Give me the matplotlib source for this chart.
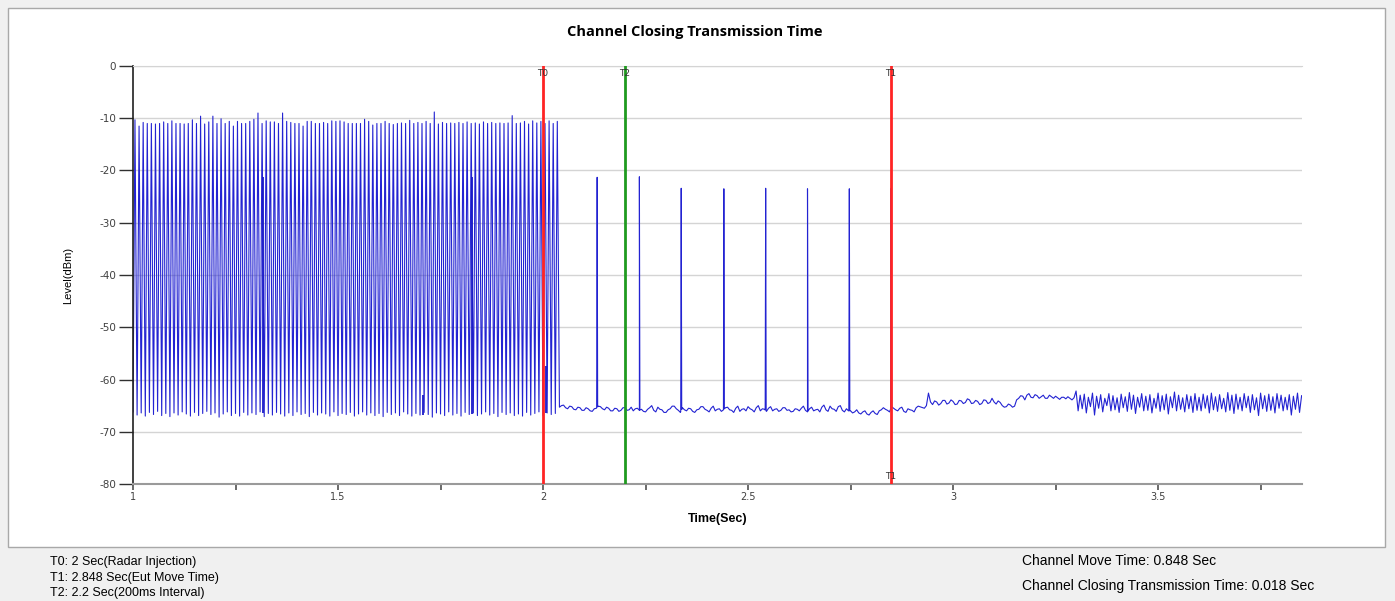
import numpy as np
import matplotlib
matplotlib.use("Agg")
from matplotlib import pyplot as plt
from matplotlib.patches import Rectangle

# ---- data ----
# pulse burst before the channel move (one pulse every 10 ms from 1.0 s)
burst_start = 1.0
burst_period = 0.01
burst_peaks = [
    -10.3, -11.5, -10.8, -11.0, -11.0, -11.1, -11.0, -10.7, -11.0, -10.5,
    -11.0, -11.0, -11.1, -11.0, -10.3, -11.0, -9.6, -11.1, -10.7, -9.6,
    -11.0, -10.1, -11.0, -10.6, -11.5, -10.6, -11.0, -11.0, -10.6, -10.2,
    -9.0, -11.0, -10.5, -10.7, -10.7, -11.0, -9.0, -10.6, -10.8, -11.0,
    -11.0, -11.5, -10.6, -10.6, -11.0, -11.0, -10.8, -11.0, -10.5, -10.6,
    -10.5, -10.7, -11.0, -11.0, -11.0, -11.0, -10.2, -10.6, -11.3, -11.0,
    -11.0, -10.6, -11.0, -11.2, -11.0, -10.9, -11.0, -10.4, -11.0, -10.8,
    -11.0, -10.6, -11.0, -8.8, -11.1, -10.8, -11.0, -10.9, -11.0, -10.8,
    -11.0, -10.7, -11.0, -10.9, -11.1, -10.7, -11.0, -10.8, -11.0, -10.9,
    -11.0, -10.9, -9.5, -11.0, -10.9, -10.6, -11.1, -10.5, -10.9, -10.6,
    -11.0, -10.5, -11.0, -10.6,
]
burst_floor = [
    -66.2, -66.8, -66.4, -67.0, -66.3, -66.7, -66.1, -66.9, -66.5, -67.1,
    -66.4, -66.8, -66.2, -66.6, -67.0, -66.3, -66.9, -66.5, -66.1, -66.7,
    -66.4, -67.2, -66.6, -66.2, -66.9, -66.5, -67.0, -66.3, -66.8, -66.4,
    -66.7, -66.2, -67.1, -66.5, -66.8, -66.3, -66.6, -67.0, -66.4, -66.9,
    -66.2, -66.7, -66.5, -67.1, -66.3, -66.8, -66.4, -66.6, -67.0, -66.2,
    -66.9, -66.5, -66.7, -66.3, -67.0, -66.6, -66.2, -66.8, -66.4, -66.9,
    -66.5, -67.1, -66.3, -66.7, -66.4, -66.9, -66.2, -66.6, -67.0, -66.5,
    -66.8, -66.3, -66.7, -67.2, -66.4, -66.6, -66.9, -66.2, -66.8, -66.5,
    -67.0, -66.3, -66.7, -66.4, -66.9, -66.6, -66.2, -66.8, -66.5, -67.1,
    -66.3, -66.7, -66.4, -66.9, -66.6, -67.0, -66.3, -66.8, -66.5, -66.2,
    -66.9, -66.4, -66.7, -66.5,
]
# odd pulses inside the burst (level reached, from the floor)
burst_extra_t = [1.317, 1.707, 1.827, 2.007]
burst_extra_level = [-21.2, -63.0, -21.2, -57.5]
burst_extra_base = [-66.5, -66.8, -66.6, -66.4]

# noise floor after the burst
noise_a_start, noise_a_step = 2.04, 0.005
noise_a = [
    -65.3, -65.0, -64.9, -65.4, -65.6, -65.1, -65.2, -65.7, -65.8, -65.3,
    -65.4, -65.9, -65.9, -65.4, -65.6, -66.0, -66.1, -65.6, -65.5, -65.1,
    -65.2, -65.6, -65.8, -65.3, -65.5, -66.0, -66.0, -65.5, -65.6, -66.1,
    -65.9, -65.4, -65.4, -65.9, -65.8, -65.3, -66.0, -65.6, -65.5, -65.9,
    -65.7, -66.1, -66.2, -65.7, -65.4, -65.0, -65.9, -66.2, -65.3, -65.7,
    -65.8, -66.3, -66.3, -65.8, -65.6, -65.1, -65.1, -65.6, -65.9, -66.3,
    -65.4, -65.8, -66.0, -65.5, -65.6, -66.1, -66.3, -65.8, -65.7, -65.2,
    -65.2, -65.7, -65.9, -66.2, -65.5, -65.1, -66.0, -65.7, -65.6, -66.1,
    -65.8, -65.4, -65.3, -65.8, -65.9, -66.3, -65.5, -65.1, -66.1, -65.7,
    -65.6, -66.0, -65.2, -65.6, -65.8, -66.2, -65.4, -65.0, -66.0, -65.6,
    -65.7, -66.1, -65.5, -65.2, -66.0, -65.7, -65.6, -66.1, -65.9, -65.4,
    -65.4, -65.9, -65.8, -66.2, -66.1, -65.6, -65.7, -66.0, -65.5, -65.1,
    -65.9, -66.2, -65.6, -65.3, -66.0, -65.8, -65.7, -66.2, -65.3, -64.9,
    -65.8, -66.1, -65.1, -65.6, -65.7, -66.1, -65.2, -65.0, -65.9, -66.2,
    -65.6, -66.0, -66.0, -66.4, -66.2, -65.8, -66.4, -66.6, -66.2, -66.0,
    -66.6, -66.8, -66.3, -66.0, -66.5, -66.7, -66.0, -65.8, -65.4, -65.7,
    -65.9, -66.2, -65.2, -65.5, -65.8, -66.0, -65.5, -65.3, -66.1, -66.3,
    -65.6, -65.8, -65.9, -66.2, -65.4, -65.1,
]
noise_b_start, noise_b_step = 2.93, 0.005
noise_b = [
    -65.5, -65.0, -62.6, -64.3, -64.8, -64.1, -64.3, -64.9, -64.6, -64.0,
    -64.0, -64.7, -64.5, -63.9, -64.2, -64.8, -64.7, -64.0, -64.1, -64.6,
    -64.4, -63.7, -63.9, -64.6, -64.5, -64.0, -64.2, -64.8, -64.6, -63.9,
    -64.0, -64.6, -64.4, -63.6, -64.3, -64.7, -64.1, -64.4, -65.0, -65.3,
    -65.2, -64.7, -64.9, -65.3, -65.1, -63.9, -63.6, -63.1, -63.2, -63.9,
    -63.0, -62.7, -63.4, -63.5, -62.9, -63.1, -63.6, -63.3, -63.0, -63.6,
    -63.6, -63.0, -63.3, -63.6, -63.2, -63.5, -63.8, -63.4, -63.4, -63.7,
    -63.3, -63.6, -63.9, -63.5,
]
noise_c_start, noise_c_step = 3.30, 0.005
noise_c = [
    -62.2, -66.0, -63.0, -65.6, -62.8, -66.4, -63.4, -65.2, -62.6, -66.8,
    -63.2, -65.5, -62.9, -66.2, -63.6, -65.0, -62.7, -66.0, -63.1, -65.8,
    -63.5, -66.3, -62.8, -65.4, -63.3, -66.1, -62.5, -65.7, -63.0, -66.5,
    -63.4, -65.3, -62.7, -66.0, -63.2, -65.9, -62.9, -66.4, -63.6, -65.5,
    -62.6, -66.1, -63.1, -65.8, -62.8, -66.6, -63.3, -65.4, -62.4, -66.0,
    -63.0, -65.7, -63.5, -66.2, -62.9, -65.6, -63.2, -66.3, -62.7, -65.9,
    -63.4, -66.0, -62.8, -65.5, -63.1, -66.4, -62.6, -65.8, -63.3, -66.1,
    -62.9, -65.6, -63.6, -66.2, -62.5, -65.9, -63.0, -66.5, -62.8, -65.7,
    -63.4, -66.0, -62.7, -65.4, -63.2, -66.3, -62.9, -65.8, -63.5, -66.9,
    -62.6, -65.6, -63.1, -66.1, -62.8, -65.9, -63.3, -66.4, -62.7, -65.5,
    -63.0, -66.0, -63.4, -65.8, -62.9, -66.8, -63.2, -65.7, -62.6, -66.3,
    -63.1,
]
# the 200 ms-interval pulses that remain after radar injection
late_t = [2.132, 2.235, 2.337, 2.441, 2.543, 2.645, 2.747, 2.849]
late_level = [-21.3, -21.2, -23.4, -23.5, -23.4, -23.5, -23.5, -23.4]

# markers
marker_names = ["T0", "T2", "T1"]
marker_times = [2.0, 2.2, 2.848]
marker_colors = ["#ff2424", "#1f9a1f", "#ff2424"]

info_left = ["T0: 2 Sec(Radar Injection)",
             "T1: 2.848 Sec(Eut Move Time)",
             "T2: 2.2 Sec(200ms Interval)"]
info_right = ["Channel Move Time: 0.848 Sec",
              "Channel Closing Transmission Time: 0.018 Sec"]

# ---- build the trace ----
t_pts, y_pts = [], []
for i, (pk, fl) in enumerate(zip(burst_peaks, burst_floor)):
    t0 = burst_start + i * burst_period
    t_pts += [t0, t0 + 0.0048]
    y_pts += [fl, pk]
for start, step, vals in [(noise_a_start, noise_a_step, noise_a),
                          (noise_b_start, noise_b_step, noise_b),
                          (noise_c_start, noise_c_step, noise_c)]:
    t_pts += list(start + step * np.arange(len(vals)))
    y_pts += vals
t_pts = np.array(t_pts)
y_pts = np.array(y_pts)
order = np.argsort(t_pts)
t_pts, y_pts = t_pts[order], y_pts[order]

# add the late single spikes on top of the noise floor
for ts, ys in zip(late_t, late_level):
    base_l = np.interp(ts - 0.0012, t_pts, y_pts)
    base_r = np.interp(ts + 0.0012, t_pts, y_pts)
    t_pts = np.concatenate([t_pts, [ts - 0.0012, ts, ts + 0.0012]])
    y_pts = np.concatenate([y_pts, [base_l, ys, base_r]])
    order = np.argsort(t_pts, kind="stable")
    t_pts, y_pts = t_pts[order], y_pts[order]

# ---- figure ----
W, H = 1395, 601
fig = plt.figure(figsize=(W / 100, H / 100), dpi=100, facecolor="#f0f0f0")
fig.patches.append(Rectangle((8 / W, 1 - 547 / H), (1385 - 8) / W, (547 - 8) / H,
                             transform=fig.transFigure, facecolor="white",
                             edgecolor="#a8a8a8", linewidth=1, zorder=-1))

ax = fig.add_axes([133 / W, 1 - 484 / H, (1302 - 133) / W, (484 - 66) / H])
ax.set_facecolor("white")
ax.plot(t_pts, y_pts, color="#2323d2", linewidth=0.8, zorder=2)
ax.vlines(burst_extra_t, burst_extra_base, burst_extra_level,
          color="#1a1ac8", linewidth=1.3, zorder=2)

for name, tm, col in zip(marker_names, marker_times, marker_colors):
    ax.axvline(tm, color=col, linewidth=2, zorder=3)
    ax.text(tm, -0.6, name, ha="center", va="top", fontsize=6.5,
            color="#333333", zorder=4)
ax.text(marker_times[2], -79.4, "T1", ha="center", va="bottom", fontsize=6.5,
        color="#333333", zorder=4)

ax.set_xlim(1, 3.851)
ax.set_ylim(-80, 0)
ax.set_yticks(np.arange(-80, 1, 10))
ax.set_yticklabels([str(v) for v in range(-80, 1, 10)])
ax.set_xticks([1, 1.5, 2, 2.5, 3, 3.5])
ax.set_xticklabels(["1", "1.5", "2", "2.5", "3", "3.5"])
ax.set_xticks([1.25, 1.75, 2.25, 2.75, 3.25, 3.75], minor=True)

ax.grid(axis="y", color="#d4d4d4", linewidth=1)
ax.set_axisbelow(True)
ax.spines["right"].set_visible(False)
ax.spines["top"].set_color("#d4d4d4")
ax.spines["left"].set_color("#202020")
ax.spines["left"].set_linewidth(1.2)
ax.spines["bottom"].set_color("#9a9a9a")
ax.spines["bottom"].set_linewidth(1.5)
ax.tick_params(axis="y", direction="out", length=10, width=1, color="#303030",
               labelsize=7.5, labelcolor="#404040", pad=2)
ax.tick_params(axis="x", which="both", direction="out", length=4, width=1.2,
               color="#505050", labelsize=7, labelcolor="#404040", pad=2)

fig.text(695 / W, 1 - 32 / H, "Channel Closing Transmission Time",
         ha="center", va="center", fontsize=10.5, fontweight="bold",
         family=["Open Sans", "DejaVu Sans"])
fig.text(68 / W, 1 - 275 / H, "Level(dBm)", rotation=90, ha="center",
         va="center", fontsize=8,
         family=["Liberation Sans Narrow", "Liberation Sans", "DejaVu Sans"])
fig.text(718 / W, 1 - 519 / H, "Time(Sec)", ha="center", va="center",
         fontsize=9, fontweight="bold", family=["Liberation Sans", "DejaVu Sans"])

for txt, yp in zip(info_left, [562, 578, 593]):
    fig.text(50 / W, 1 - yp / H, txt, ha="left", va="center", fontsize=9,
             family=["Liberation Sans", "DejaVu Sans"])
for txt, yp in zip(info_right, [561, 586]):
    fig.text(1022 / W, 1 - yp / H, txt, ha="left", va="center", fontsize=10,
             family=["Liberation Sans", "DejaVu Sans"])

fig.savefig("out.png", dpi=100, facecolor=fig.get_facecolor())
